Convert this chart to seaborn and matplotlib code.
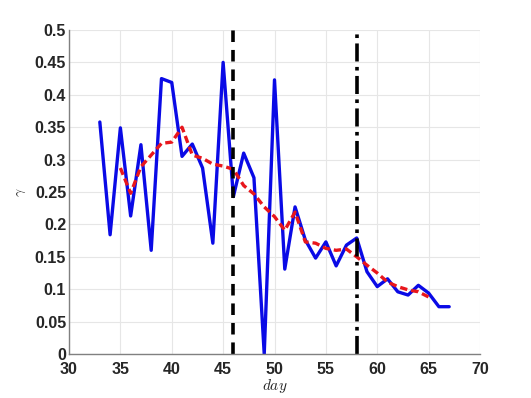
import matplotlib
matplotlib.use("Agg")
import matplotlib.pyplot as plt
import numpy as np
import pandas as pd
import seaborn as sns

# observed gamma per day
days = list(range(33, 68))
gamma = [0.358, 0.184, 0.349, 0.213, 0.323, 0.160, 0.425, 0.419, 0.305, 0.324,
         0.287, 0.171, 0.450, 0.243, 0.310, 0.272, 0.0, 0.423, 0.131, 0.227,
         0.176, 0.148, 0.173, 0.136, 0.168, 0.179, 0.127, 0.104, 0.116, 0.096,
         0.091, 0.106, 0.094, 0.073, 0.073]

# smoothed gamma
smooth_days = list(range(35, 66))
smooth_gamma = [0.287, 0.248, 0.289, 0.307, 0.325, 0.327, 0.350, 0.307, 0.302,
                0.293, 0.290, 0.285, 0.260, 0.247, 0.227, 0.212, 0.191, 0.219,
                0.173, 0.171, 0.163, 0.160, 0.162, 0.150, 0.137, 0.125, 0.111,
                0.104, 0.099, 0.096, 0.088]

# event markers
event_days = [46, 58]
event_styles = [(0, (3.2, 2.2)), (0, (5, 1.5, 1, 1.5))]

x_ticks = list(range(30, 71, 5))
y_ticks = [round(v, 2) for v in np.arange(0, 0.51, 0.05)]

df = pd.DataFrame({'day': days, 'gamma': gamma})
df_s = pd.DataFrame({'day': smooth_days, 'gamma': smooth_gamma})

sns.set_style("whitegrid")
plt.rcParams['font.family'] = ['Liberation Sans', 'DejaVu Sans']
plt.rcParams['mathtext.fontset'] = 'cm'

fig = plt.figure(figsize=(5.31, 3.98), dpi=100)
ax = fig.add_axes([69 / 531, 1 - 354 / 398, (480 - 69) / 531, (354 - 30) / 398])

sns.lineplot(data=df, x='day', y='gamma', ax=ax, color='#0a0ae6', linewidth=2.4)
sns.lineplot(data=df_s, x='day', y='gamma', ax=ax, color='#e8161c', linewidth=2.4,
             linestyle=(0, (2.2, 1.2)))
for d, ls in zip(event_days, event_styles):
    ax.axvline(d, color='black', linewidth=2.6, linestyle=ls)

ax.set_xlim(30, 70)
ax.set_ylim(0, 0.5)
ax.set_xticks(x_ticks)
ax.set_yticks(y_ticks)
ax.set_xticklabels([str(t) for t in x_ticks], fontweight='bold', fontsize=11.5)
ax.set_yticklabels([f"{t:g}" for t in y_ticks], fontweight='bold', fontsize=11.5)
ax.tick_params(axis='both', direction='in', length=3, color='#808080')
ax.tick_params(axis='x', pad=6)
ax.tick_params(axis='y', pad=2)
ax.grid(True, color='#e6e6e6', linewidth=0.8)

for s in ['top', 'right']:
    ax.spines[s].set_visible(False)
for s in ['left', 'bottom']:
    ax.spines[s].set_color('#808080')
    ax.spines[s].set_linewidth(1.0)

ax.set_xlabel(r'$day$', fontsize=11, labelpad=0)
ax.set_ylabel(r'$\gamma$', fontsize=10, labelpad=5)

fig.savefig('out.png', dpi=100)
